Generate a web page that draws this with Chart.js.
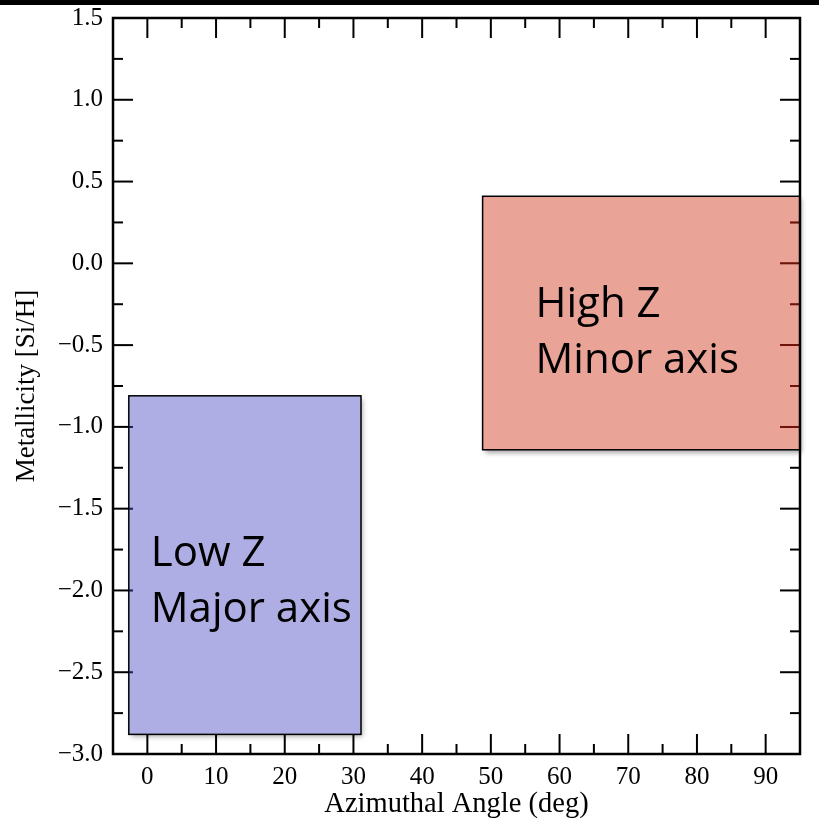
<!DOCTYPE html>
<html>
<head>
<meta charset="utf-8">
<script src="https://cdn.jsdelivr.net/npm/chart.js@4/dist/chart.umd.min.js"></script>
<style>
  html, body { margin: 0; padding: 0; background: #fff; }
  canvas { display: block; }
</style>
</head>
<body>
<canvas id="grafico_metalicidad" width="819" height="832"></canvas>
<script>
// regiones en el plano angulo azimutal / metalicidad
const lineasRegion = [['Low Z', 'Major axis'], ['High Z', 'Minor axis']]
const anguloMin = [-2.7, 48.8]
const anguloMax = [31.1, 95]
const metalMin = [-2.88, -1.14]
const metalMax = [-0.81, 0.41]
const coloresRegion = ['rgba(160,160,223,0.85)', 'rgba(230,148,133,0.85)']
const coloresMarca = ['#23236a', '#6e1408'] // marcas de eje vistas a traves de la caja

// donde va el texto de cada caja (inicio de la primera linea)
const textoAngulo = [0.5, 56.5]
const textoMetal = [-1.85, -0.33]

// marcas de los ejes
const ticksX = [0, 10, 20, 30, 40, 50, 60, 70, 80, 90]
const ticksXmenores = [5, 15, 25, 35, 45, 55, 65, 75, 85]
const ticksY = [-3.0, -2.5, -2.0, -1.5, -1.0, -0.5, 0.0, 0.5, 1.0, 1.5]
const ticksYmenores = [-2.75, -2.25, -1.75, -1.25, -0.75, -0.25, 0.25, 0.75, 1.25]

const fuenteEjes = 'Liberation Serif'

const linea = (ctx, x1, y1, x2, y2) => {
    ctx.beginPath()
    ctx.moveTo(x1, y1)
    ctx.lineTo(x2, y2)
    ctx.stroke()
}

// marcas hacia adentro en los cuatro lados
const dibujarMarcas = (chart, color) => {
    const { ctx, chartArea: a, scales: { x, y } } = chart
    ctx.strokeStyle = color
    ctx.lineWidth = 2
    const marcaX = (v, largo) => {
        const px = x.getPixelForValue(v)
        linea(ctx, px, a.bottom, px, a.bottom - largo)
        linea(ctx, px, a.top, px, a.top + largo)
    }
    const marcaY = (v, largo) => {
        const py = y.getPixelForValue(v)
        linea(ctx, a.left, py, a.left + largo, py)
        linea(ctx, a.right, py, a.right - largo, py)
    }
    ticksX.forEach(v => marcaX(v, 20))
    ticksXmenores.forEach(v => marcaX(v, 10))
    ticksY.forEach(v => marcaY(v, 20))
    ticksYmenores.forEach(v => marcaY(v, 10))
}

const cajasPlugin = {
    id: 'cajas',
    beforeDatasetsDraw(chart) {
        chart.ctx.save()
        dibujarMarcas(chart, '#000')
        chart.ctx.restore()
    },
    afterDatasetsDraw(chart) {
        const { ctx, chartArea: a, scales: { x, y } } = chart
        lineasRegion.forEach((lineas, i) => {
            const x0 = x.getPixelForValue(anguloMin[i])
            const x1 = x.getPixelForValue(anguloMax[i])
            const y0 = y.getPixelForValue(metalMax[i])
            const y1 = y.getPixelForValue(metalMin[i])
            // sombra solo por fuera de la caja
            ctx.save()
            ctx.beginPath()
            ctx.rect(0, 0, chart.width, chart.height)
            ctx.rect(x0, y0, x1 - x0, y1 - y0)
            ctx.clip('evenodd')
            ctx.shadowColor = 'rgba(0,0,0,0.35)'
            ctx.shadowBlur = 5
            ctx.shadowOffsetX = 2
            ctx.shadowOffsetY = 3
            ctx.fillStyle = '#fff'
            ctx.fillRect(x0, y0, x1 - x0, y1 - y0)
            ctx.restore()

            ctx.save()
            ctx.fillStyle = coloresRegion[i]
            ctx.fillRect(x0, y0, x1 - x0, y1 - y0)
            // las marcas que caen dentro de la caja se ven oscuras
            ctx.save()
            ctx.beginPath()
            ctx.rect(x0, y0, x1 - x0, y1 - y0)
            ctx.clip()
            dibujarMarcas(chart, coloresMarca[i])
            ctx.restore()
            ctx.strokeStyle = '#000'
            ctx.lineWidth = 1.5
            ctx.strokeRect(x0, y0, x1 - x0, y1 - y0)
            ctx.fillStyle = '#000'
            ctx.font = '42px "Open Sans"'
            ctx.textBaseline = 'alphabetic'
            const tx = x.getPixelForValue(textoAngulo[i])
            const ty = y.getPixelForValue(textoMetal[i])
            lineas.forEach((t, k) => ctx.fillText(t, tx, ty + k * 56))
            ctx.restore()
        })

        // marco del grafico
        ctx.save()
        ctx.strokeStyle = '#000'
        ctx.lineWidth = 2.5
        ctx.strokeRect(a.left, a.top, a.right - a.left, a.bottom - a.top)
        // franja negra de arriba
        ctx.fillStyle = '#000'
        ctx.fillRect(0, 0, chart.width, 5)
        ctx.restore()
    }
}

const formatoY = v => (v < 0 ? '\u2212' : '') + Math.abs(v).toFixed(1)

const ctx = document.getElementById('grafico_metalicidad').getContext('2d')
const myChart = new Chart(ctx, {
    type: 'scatter',
    data: {
        datasets: lineasRegion.map((l, i) => ({
            label: l.join(' '),
            data: [{ x: anguloMin[i], y: metalMin[i] }, { x: anguloMax[i], y: metalMax[i] }],
            pointRadius: 0,
            showLine: false
        }))
    },
    options: {
        responsive: false,
        animation: false,
        layout: { autoPadding: false, padding: { top: 18, right: 19, left: 0, bottom: 0 } },
        plugins: { legend: { display: false }, tooltip: { enabled: false } },
        scales: {
            x: {
                type: 'linear',
                min: -5,
                max: 95,
                afterBuildTicks: s => { s.ticks = ticksX.map(v => ({ value: v })) },
                afterFit: s => { s.height = 78; s.paddingLeft = 0; s.paddingRight = 0 },
                grid: { display: false, drawTicks: false },
                border: { display: false },
                ticks: { color: '#000', padding: 8, maxRotation: 0, font: { family: fuenteEjes, size: 25 } },
                title: {
                    display: true,
                    text: 'Azimuthal Angle (deg)',
                    color: '#000',
                    font: { family: fuenteEjes, size: 28.5 },
                    padding: { top: 0, bottom: 10 }
                }
            },
            y: {
                type: 'linear',
                min: -3,
                max: 1.5,
                afterBuildTicks: s => { s.ticks = ticksY.map(v => ({ value: v })) },
                // el padding de las etiquetas empujaba el area hacia abajo
                afterFit: s => { s.width = 113; s.paddingTop = 0; s.paddingBottom = 0 },
                grid: { display: false, drawTicks: false },
                border: { display: false },
                ticks: { color: '#000', padding: 10, callback: formatoY, font: { family: fuenteEjes, size: 25 } },
                title: {
                    display: true,
                    text: 'Metallicity [Si/H]',
                    color: '#000',
                    font: { family: fuenteEjes, size: 27 },
                    padding: { top: 11, bottom: 0 }
                }
            }
        }
    },
    plugins: [cajasPlugin]
})
</script>
</body>
</html>
